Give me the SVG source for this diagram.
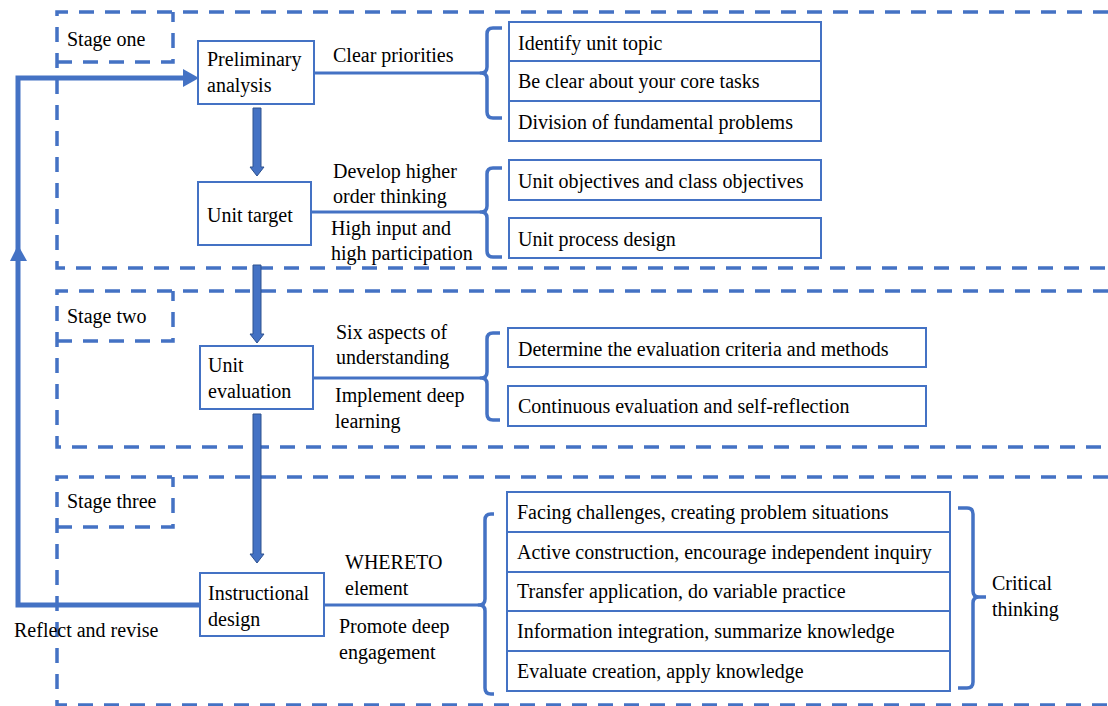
<svg xmlns="http://www.w3.org/2000/svg" width="1108" height="706" viewBox="0 0 1108 706">
<defs>
<style>
.stage{fill:none;stroke:#4472C4;stroke-width:3.5;stroke-dasharray:15 11}
.box{fill:#fff;stroke:#4472C4;stroke-width:2}
.ln{fill:none;stroke:#4472C4;stroke-width:3}
.br{fill:none;stroke:#4472C4;stroke-width:3.5;stroke-linejoin:round}
.fb{fill:none;stroke:#4472C4;stroke-width:5}
.blk{fill:#4472C4;stroke:#2F528F;stroke-width:1}
.ah{fill:#4472C4}
</style>
</defs>
<rect width="1108" height="706" fill="#fff"/>

<g id="stages">
<path class="stage" d="M1108 12 H57 V268 H1108"/>
<path class="stage" d="M57 62 H173 V12"/>
<path class="stage" d="M1108 291 H57 V447 H1108"/>
<path class="stage" d="M57 341 H173 V291"/>
<path class="stage" d="M1108 477 H57 V705 H1108"/>
<path class="stage" d="M57 527 H173 V477"/>
<text font-family="Liberation Serif" font-size="20" style="font-family:'Liberation Serif';font-size:20px" x="67" y="46">Stage one</text>
<text font-family="Liberation Serif" font-size="20" style="font-family:'Liberation Serif';font-size:20px" x="67" y="323">Stage two</text>
<text font-family="Liberation Serif" font-size="20" style="font-family:'Liberation Serif';font-size:20px" x="67" y="508">Stage three</text>
</g>

<g id="connectors">
<path class="fb" d="M200 605 H18 V78 H186"/>
<polygon class="ah" points="199,78 183,69 183,87"/>
<polygon class="ah" points="18,245 10,261 27,261"/>
<polygon class="blk" points="253,108 261,108 261,167 264,167 257,176 250,167 253,167"/>
<polygon class="blk" points="253,265 261,265 261,334 264,334 257,343 250,334 253,334"/>
<polygon class="blk" points="253,414 261,414 261,554 264,554 257,563 250,554 253,554"/>
<path class="ln" d="M314 73 H481"/>
<path class="ln" d="M311 212 H481"/>
<path class="ln" d="M313 378 H481"/>
<path class="ln" d="M324 605 H479"/>
<path class="br" d="M502 28 H493 Q487 28 487 34 V67 Q487 73 481 73 Q487 73 487 79 V112 Q487 118 493 118 H502"/>
<path class="br" d="M502 168 H493 Q487 168 487 174 V206 Q487 212 481 212 Q487 212 487 218 V251 Q487 257 493 257 H502"/>
<path class="br" d="M500 333 H493 Q487 333 487 339 V372 Q487 378 481 378 Q487 378 487 384 V414 Q487 420 493 420 H500"/>
<path class="br" d="M494 514 H491 Q485 514 485 520 V599 Q485 605 479 605 Q485 605 485 611 V688 Q485 694 491 694 H494"/>
<path class="br" d="M958 508 H967 Q973 508 973 514 V591 Q973 597 979 597 H986 M979 597 Q973 597 973 603 V682 Q973 688 967 688 H958"/>
</g>

<g id="prelim">
<rect class="box" x="198" y="41" width="116" height="63"/>
<text font-family="Liberation Serif" font-size="20" style="font-family:'Liberation Serif';font-size:20px" x="207" y="66">Preliminary</text>
<text font-family="Liberation Serif" font-size="20" style="font-family:'Liberation Serif';font-size:20px" x="207" y="92">analysis</text>
</g>
<g id="unit-target">
<rect class="box" x="198" y="182" width="113" height="63"/>
<text font-family="Liberation Serif" font-size="20" style="font-family:'Liberation Serif';font-size:20px" x="207" y="222">Unit target</text>
</g>
<g id="unit-eval">
<rect class="box" x="200" y="346" width="113" height="63"/>
<text font-family="Liberation Serif" font-size="20" style="font-family:'Liberation Serif';font-size:20px" x="208" y="372">Unit</text>
<text font-family="Liberation Serif" font-size="20" style="font-family:'Liberation Serif';font-size:20px" x="208" y="398">evaluation</text>
</g>
<g id="instr">
<rect class="box" x="200" y="573" width="124" height="63"/>
<text font-family="Liberation Serif" font-size="20" style="font-family:'Liberation Serif';font-size:20px" x="208" y="600">Instructional</text>
<text font-family="Liberation Serif" font-size="20" style="font-family:'Liberation Serif';font-size:20px" x="208" y="626">design</text>
</g>

<g id="labels">
<text font-family="Liberation Serif" font-size="20" style="font-family:'Liberation Serif';font-size:20px" x="333" y="62">Clear priorities</text>
<text font-family="Liberation Serif" font-size="20" style="font-family:'Liberation Serif';font-size:20px" x="333" y="178">Develop higher</text>
<text font-family="Liberation Serif" font-size="20" style="font-family:'Liberation Serif';font-size:20px" x="333" y="203">order thinking</text>
<text font-family="Liberation Serif" font-size="20" style="font-family:'Liberation Serif';font-size:20px" x="331" y="235">High input and</text>
<text font-family="Liberation Serif" font-size="20" style="font-family:'Liberation Serif';font-size:20px" x="331" y="260">high participation</text>
<text font-family="Liberation Serif" font-size="20" style="font-family:'Liberation Serif';font-size:20px" x="336" y="339">Six aspects of</text>
<text font-family="Liberation Serif" font-size="20" style="font-family:'Liberation Serif';font-size:20px" x="336" y="364">understanding</text>
<text font-family="Liberation Serif" font-size="20" style="font-family:'Liberation Serif';font-size:20px" x="335" y="402">Implement deep</text>
<text font-family="Liberation Serif" font-size="20" style="font-family:'Liberation Serif';font-size:20px" x="335" y="428">learning</text>
<text font-family="Liberation Serif" font-size="20" style="font-family:'Liberation Serif';font-size:20px" x="345" y="569">WHERETO</text>
<text font-family="Liberation Serif" font-size="20" style="font-family:'Liberation Serif';font-size:20px" x="345" y="595">element</text>
<text font-family="Liberation Serif" font-size="20" style="font-family:'Liberation Serif';font-size:20px" x="339" y="633">Promote deep</text>
<text font-family="Liberation Serif" font-size="20" style="font-family:'Liberation Serif';font-size:20px" x="339" y="659">engagement</text>
<text font-family="Liberation Serif" font-size="20" style="font-family:'Liberation Serif';font-size:20px" x="14" y="637">Reflect and revise</text>
<text font-family="Liberation Serif" font-size="20" style="font-family:'Liberation Serif';font-size:20px" x="992" y="590">Critical</text>
<text font-family="Liberation Serif" font-size="20" style="font-family:'Liberation Serif';font-size:20px" x="992" y="616">thinking</text>
</g>

<g id="s1-items">
<rect class="box" x="509" y="22" width="312" height="39"/>
<rect class="box" x="509" y="61" width="312" height="40"/>
<rect class="box" x="509" y="101" width="312" height="40"/>
<text font-family="Liberation Serif" font-size="20" style="font-family:'Liberation Serif';font-size:20px" x="518" y="50">Identify unit topic</text>
<text font-family="Liberation Serif" font-size="20" style="font-family:'Liberation Serif';font-size:20px" x="518" y="88">Be clear about your core tasks</text>
<text font-family="Liberation Serif" font-size="20" style="font-family:'Liberation Serif';font-size:20px" x="518" y="129">Division of fundamental problems</text>
<rect class="box" x="509" y="160" width="312" height="40"/>
<rect class="box" x="509" y="218" width="312" height="40"/>
<text font-family="Liberation Serif" font-size="20" style="font-family:'Liberation Serif';font-size:20px" x="518" y="188">Unit objectives and class objectives</text>
<text font-family="Liberation Serif" font-size="20" style="font-family:'Liberation Serif';font-size:20px" x="518" y="246">Unit process design</text>
</g>

<g id="s2-items">
<rect class="box" x="508" y="328" width="418" height="39"/>
<rect class="box" x="508" y="386" width="418" height="40"/>
<text font-family="Liberation Serif" font-size="20" style="font-family:'Liberation Serif';font-size:20px" x="518" y="356">Determine the evaluation criteria and methods</text>
<text font-family="Liberation Serif" font-size="20" style="font-family:'Liberation Serif';font-size:20px" x="518" y="413">Continuous evaluation and self-reflection</text>
</g>

<g id="s3-items">
<rect class="box" x="507" y="492" width="443" height="40"/>
<rect class="box" x="507" y="532" width="443" height="40"/>
<rect class="box" x="507" y="572" width="443" height="39"/>
<rect class="box" x="507" y="611" width="443" height="40"/>
<rect class="box" x="507" y="651" width="443" height="40"/>
<text font-family="Liberation Serif" font-size="20" style="font-family:'Liberation Serif';font-size:20px" x="517" y="519">Facing challenges, creating problem situations</text>
<text font-family="Liberation Serif" font-size="20" style="font-family:'Liberation Serif';font-size:20px" x="517" y="559">Active construction, encourage independent inquiry</text>
<text font-family="Liberation Serif" font-size="20" style="font-family:'Liberation Serif';font-size:20px" x="517" y="598">Transfer application, do variable practice</text>
<text font-family="Liberation Serif" font-size="20" style="font-family:'Liberation Serif';font-size:20px" x="517" y="638">Information integration, summarize knowledge</text>
<text font-family="Liberation Serif" font-size="20" style="font-family:'Liberation Serif';font-size:20px" x="517" y="678">Evaluate creation, apply knowledge</text>
</g>
</svg>
